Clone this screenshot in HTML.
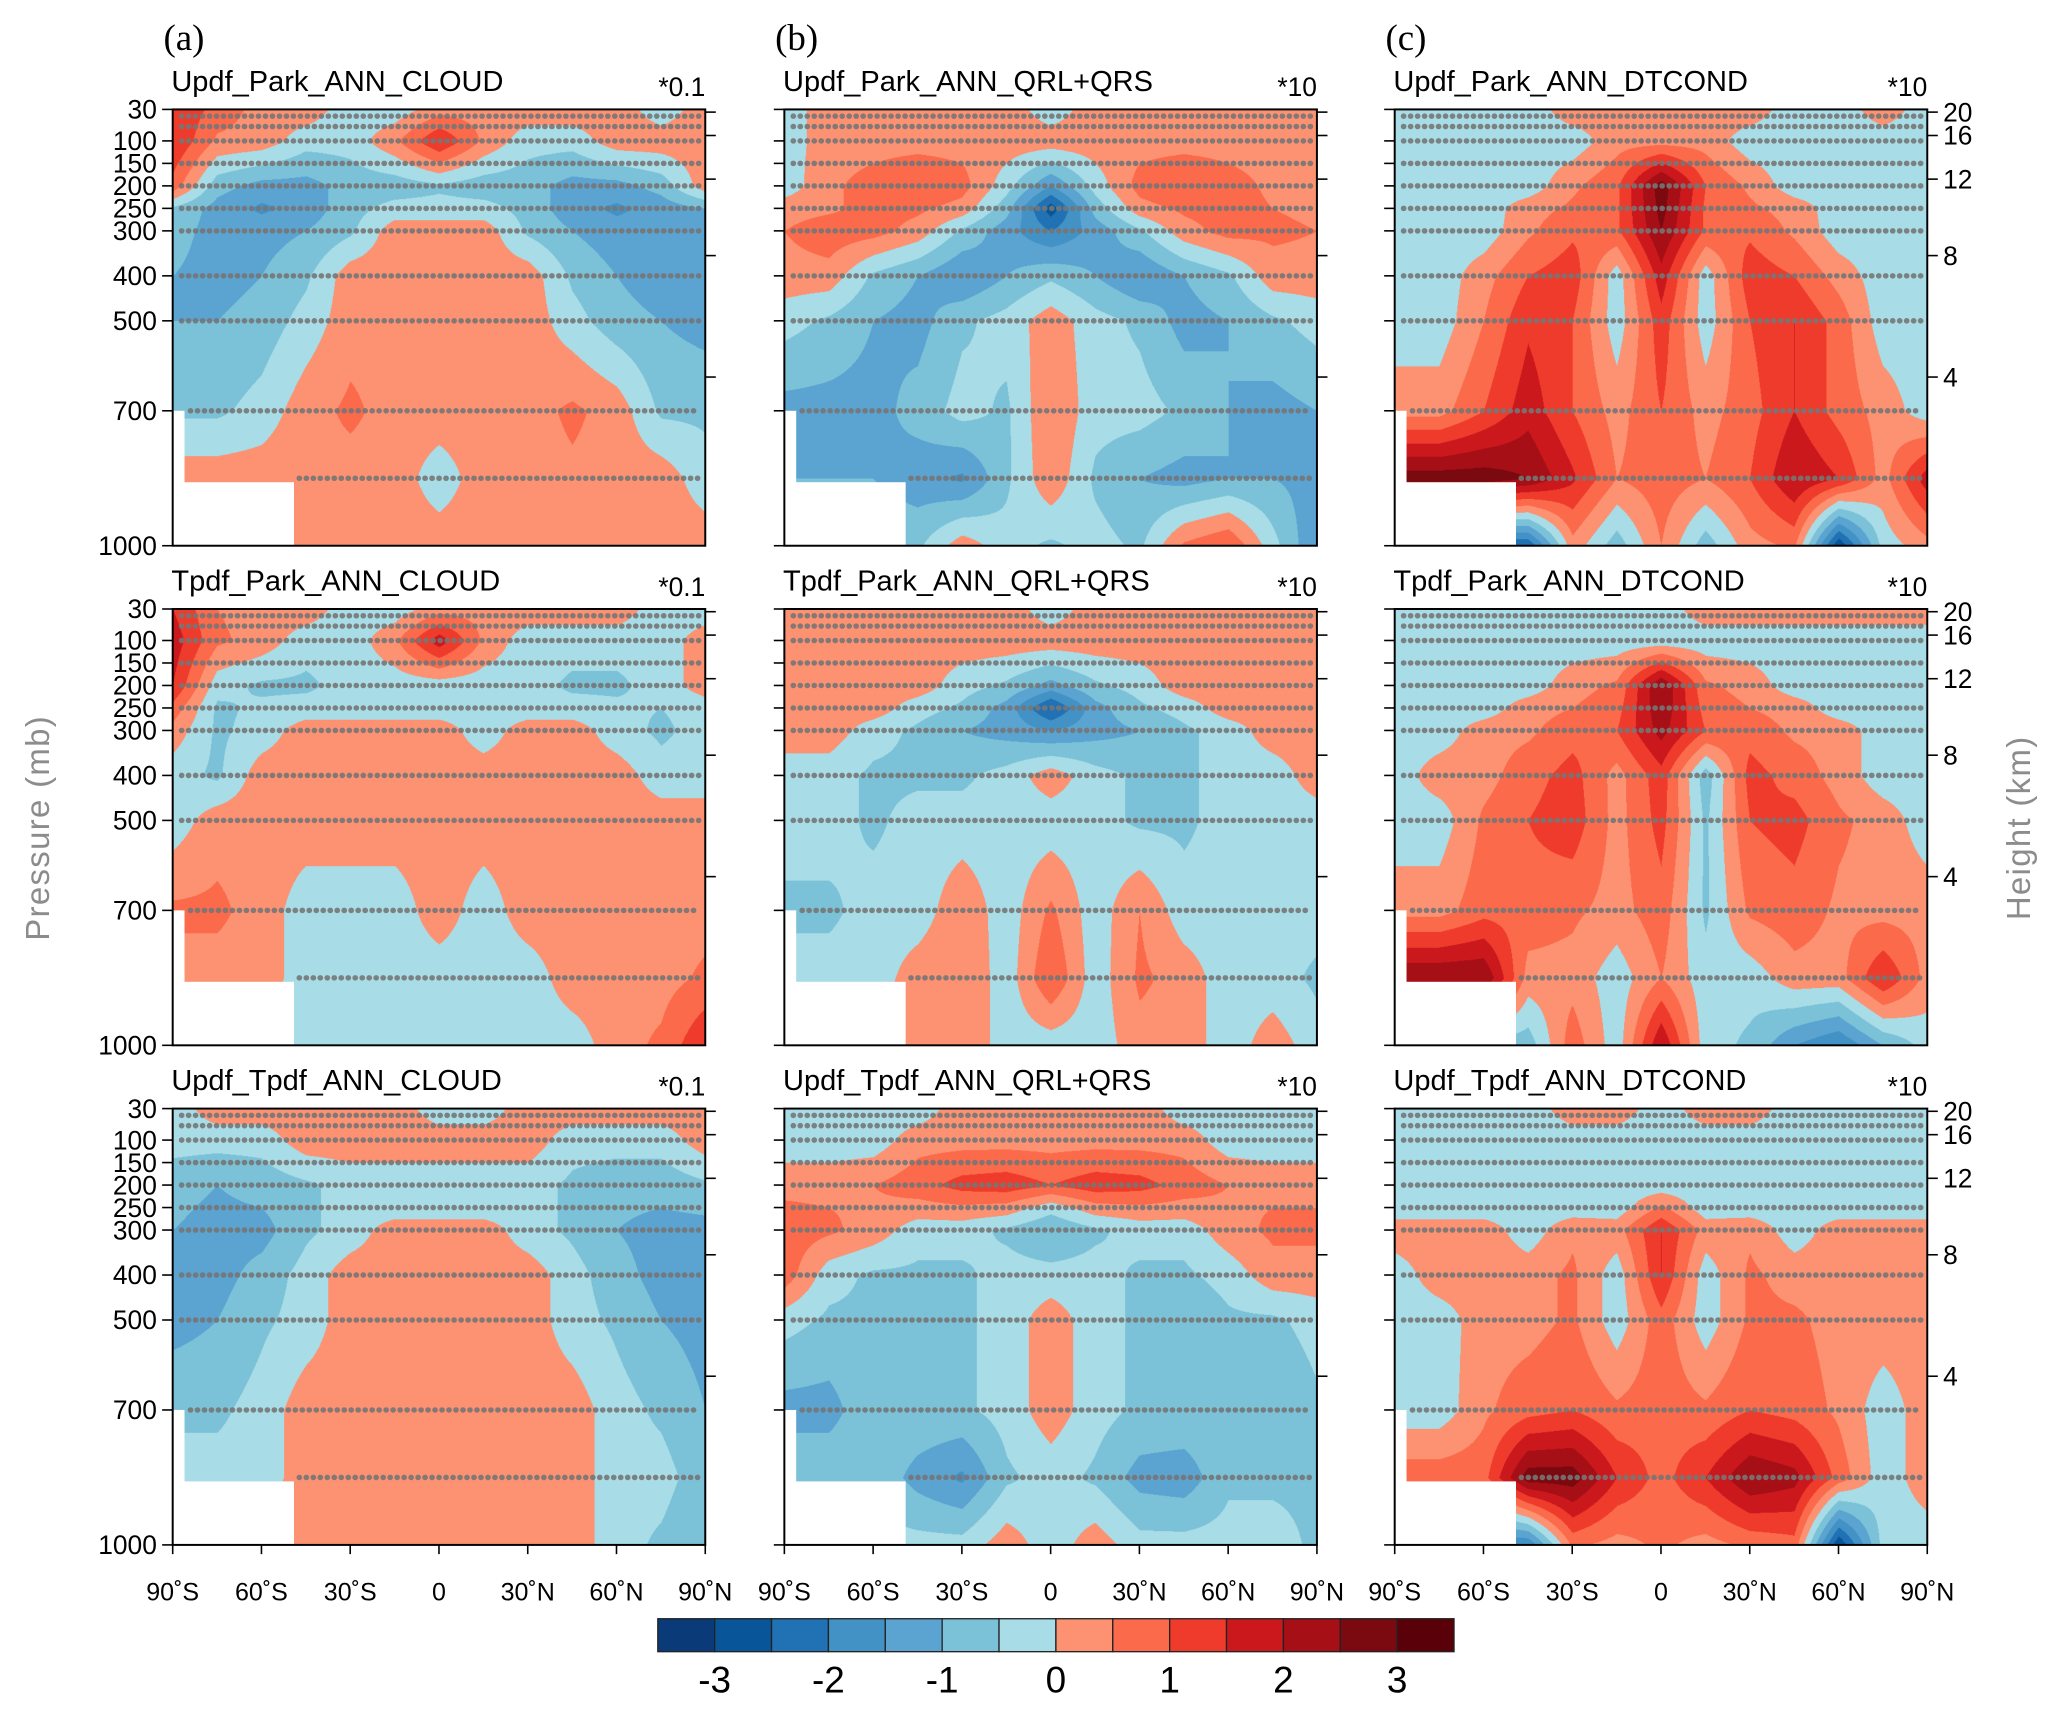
<!DOCTYPE html>
<html><head><meta charset="utf-8">
<style>
html,body{margin:0;padding:0;background:#fff;overflow:hidden;width:2067px;height:1711px}
#stage{position:absolute;left:0;top:0;width:1568px;height:1298px;transform:scale(1.31824,1.31818);transform-origin:0 0;font-family:"Liberation Sans",sans-serif}
canvas{position:absolute}
svg{position:absolute;left:0;top:0}
</style></head>
<body>
<div id="stage">
<svg id="ov" width="1568" height="1298"></svg>
</div>
<script>
const lats=[-90,-75,-60,-45,-30,-15,0,15,30,45,60,75,90];
const levels=[30,100,200,250,300,400,500,700,850,1000];
const N=NaN;
const colorLevels=[-3,-2.5,-2,-1.5,-1,-0.5,0,0.5,1,1.5,2,2.5,3];
const colorbarLabels=[-3,-2,-1,0,1,2,3];
const palette=["#0a3a78","#08559a","#2171b5","#4292c6","#5ba3d0","#7bc2d8","#a8dce6","#fc9272","#fb6a4a","#ef3b2c","#cb181d","#a50f15","#7a0a10","#5a0008"];
const titles=[["Updf_Park_ANN_CLOUD","*0.1"],["Updf_Park_ANN_QRL+QRS","*10"],["Updf_Park_ANN_DTCOND","*10"],
["Tpdf_Park_ANN_CLOUD","*0.1"],["Tpdf_Park_ANN_QRL+QRS","*10"],["Tpdf_Park_ANN_DTCOND","*10"],
["Updf_Tpdf_ANN_CLOUD","*0.1"],["Updf_Tpdf_ANN_QRL+QRS","*10"],["Updf_Tpdf_ANN_DTCOND","*10"]];
const pTicks=[30,100,150,200,250,300,400,500,700,1000];
const hTicks=[20,16,12,8,4];
const hTickP=[36,88,185,355,625];
const latTickLabels=["90˚S","60˚S","30˚S","0","30˚N","60˚N","90˚N"];
const latTicks=[-90,-60,-30,0,30,60,90];
const stippleLevels=[45,68,100,150,200,250,300,400,500,700,850];
const fA1=[
[1.5,0.8,0.3,0.3,-0.3,-0.3,0.3,0.3,0.3,0.3,0.3,-0.3,0.3],
[1.5,0.4,0.3,-0.3,-0.3,0.4,1.5,0.4,-0.3,-0.3,0.3,0.3,0.3],
[0.8,-0.8,-1.2,-1.2,-0.8,-0.8,-0.6,-0.8,-0.8,-1.2,-1.2,-0.8,0.3],
[-0.6,-1.2,-1.6,-1.3,-0.7,-0.3,-0.3,-0.3,-0.7,-1.3,-1.6,-1.3,-1.0],
[-0.8,-1.2,-1.2,-1.0,-0.6,0.3,0.3,0.3,-0.6,-1.0,-1.3,-1.3,-1.2],
[-1.0,-1.2,-1.0,-0.6,0.3,0.3,0.3,0.3,0.3,-0.6,-1.0,-1.3,-1.2],
[-1.0,-1.0,-0.8,-0.3,0.3,0.3,0.3,0.3,0.3,-0.3,-0.8,-1.0,-1.2],
[N,-0.6,-0.3,0.3,0.6,0.3,0.3,0.3,0.3,0.6,0.3,-0.6,-0.6],
[N,N,0.3,0.4,0.3,0.3,-0.3,0.3,0.3,0.4,0.3,0.3,-0.3],
[N,N,N,0.3,0.3,0.3,0.3,0.3,0.3,0.3,0.3,0.3,0.3]];
const fB1=[
[-0.3,0.3,0.3,0.3,0.3,0.3,-0.3,0.3,0.3,0.3,0.3,0.3,0.3],
[-0.3,0.3,0.3,0.3,0.3,0.3,0.3,0.3,0.3,0.3,0.3,0.3,0.3],
[-0.3,0.4,0.7,1.0,0.7,-0.3,-1.5,-0.3,0.7,1.0,0.7,0.4,0.3],
[0.3,0.4,0.7,0.6,0.3,-0.8,-2.8,-0.8,0.3,0.6,0.7,0.5,0.4],
[0.5,0.8,0.7,0.3,-0.6,-1.3,-2.0,-1.3,-0.6,0.3,0.7,0.6,0.5],
[0.3,0.3,-0.6,-1.0,-1.5,-1.0,-0.6,-1.0,-1.5,-1.0,-0.6,0.3,0.3],
[-0.3,-0.6,-1.0,-1.2,-0.6,-0.3,0.3,-0.3,-0.6,-1.2,-1.0,-0.6,-0.3],
[N,-1.2,-1.2,-0.8,-0.3,-0.6,0.5,-0.3,-0.3,-0.6,-1.0,-1.2,-1.0],
[N,N,-1.0,-1.3,-1.6,-0.6,0.4,-0.6,-1.0,-1.2,-1.0,-1.0,-1.2],
[N,N,N,-0.6,0.3,-0.3,-0.6,-0.3,-0.6,0.6,1.0,-0.3,-1.5]];
const fC1=[
[-0.3,-0.3,-0.3,-0.3,0.3,0.3,0.3,0.3,0.3,-0.3,-0.3,0.3,-0.3],
[-0.3,-0.3,-0.3,-0.3,-0.3,0.3,0.3,0.3,-0.3,-0.3,-0.3,-0.3,-0.3],
[-0.3,-0.3,-0.3,-0.3,0.4,0.9,2.8,1.0,0.4,-0.3,-0.3,-0.3,-0.3],
[-0.3,-0.3,-0.3,0.3,0.6,0.9,2.7,0.9,0.6,0.3,-0.3,-0.3,-0.3],
[-0.3,-0.3,-0.3,0.4,0.9,0.9,2.5,0.9,0.9,0.4,-0.3,-0.3,-0.3],
[-0.3,-0.3,0.3,1.0,1.3,-0.3,1.8,-0.3,1.3,1.0,0.3,-0.3,-0.3],
[-0.3,-0.3,0.5,1.4,1.0,-0.3,1.3,-0.3,1.0,1.5,0.8,-0.3,-0.3],
[N,0.3,1.0,1.8,1.0,0.3,1.0,0.3,0.8,1.5,0.8,0.3,-0.3],
[N,N,2.8,2.5,1.6,0.5,0.8,0.5,1.0,2.0,1.5,0.3,1.8],
[N,N,N,-2.5,0.3,-0.8,0.5,-0.8,0.3,0.6,-3,-0.3,0.3]];
const fA2=[
[1.5,0.5,0.3,0.3,-0.3,-0.3,0.3,0.3,0.3,0.3,0.3,-0.3,-0.3],
[1.8,0.6,0.3,-0.3,-0.3,0.4,1.8,0.4,-0.3,-0.3,-0.3,-0.3,0.3],
[1.5,-0.3,-0.6,-0.6,-0.3,-0.3,-0.3,-0.3,-0.3,-0.6,-0.6,-0.3,0.3],
[0.8,-0.6,-0.4,-0.3,-0.3,-0.3,-0.3,-0.3,-0.3,-0.3,-0.4,-0.5,-0.3],
[0.3,-0.6,-0.3,0.3,0.3,0.3,0.3,-0.3,0.3,0.3,-0.3,-0.6,-0.3],
[-0.3,-0.6,0.3,0.3,0.3,0.3,0.3,0.3,0.3,0.3,0.3,-0.3,-0.3],
[-0.3,0.3,0.3,0.3,0.3,0.3,0.3,0.3,0.3,0.3,0.3,0.3,0.3],
[N,0.6,0.3,-0.3,-0.3,-0.3,0.3,-0.3,0.3,0.3,0.3,0.3,0.3],
[N,N,0.3,-0.3,-0.3,-0.3,-0.3,-0.3,-0.3,0.3,0.3,0.3,0.6],
[N,N,N,-0.3,-0.3,-0.3,-0.3,-0.3,-0.3,-0.3,0.3,0.6,1.5]];
const fB2=[
[0.3,0.3,0.3,0.3,0.3,0.3,-0.3,0.3,0.3,0.3,0.3,0.3,0.3],
[0.3,0.3,0.3,0.3,0.3,0.3,0.3,0.3,0.3,0.3,0.3,0.3,0.3],
[0.3,0.3,0.3,0.3,-0.3,-0.6,-1.2,-0.6,-0.3,0.3,0.3,0.3,0.3],
[0.3,0.3,0.3,-0.3,-0.6,-1.2,-2.6,-1.2,-0.6,-0.3,0.3,0.3,0.3],
[0.3,0.3,-0.3,-0.6,-1.0,-1.2,-1.5,-1.2,-1.0,-0.6,-0.3,0.3,0.3],
[-0.3,-0.3,-0.6,-0.6,-0.6,-0.3,0.3,-0.3,-0.6,-0.6,-0.3,-0.3,0.3],
[-0.3,-0.3,-0.6,-0.3,-0.3,-0.3,-0.3,-0.3,-0.6,-0.6,-0.3,-0.3,-0.3],
[N,-0.6,-0.3,-0.3,0.4,-0.3,0.6,-0.3,0.5,-0.3,-0.3,-0.3,-0.3],
[N,N,-0.3,0.3,0.5,-0.3,1.0,-0.3,0.6,0.3,-0.3,-0.3,-0.6],
[N,N,N,0.3,0.5,-0.3,-0.3,-0.3,0.3,0.3,-0.3,0.3,-0.3]];
const fC2=[
[-0.3,-0.3,-0.3,-0.3,-0.3,-0.3,-0.3,0.3,0.3,0.3,0.3,0.3,0.3],
[-0.3,-0.3,-0.3,-0.3,-0.3,-0.3,-0.3,-0.3,-0.3,-0.3,-0.3,-0.3,-0.3],
[-0.3,-0.3,-0.3,-0.3,0.3,0.6,2.5,0.6,0.3,-0.3,-0.3,-0.3,-0.3],
[-0.3,-0.3,-0.3,0.3,0.5,0.8,2.4,0.8,0.5,0.3,-0.3,-0.3,-0.3],
[-0.3,-0.3,0.3,0.4,0.8,1.0,2.2,1.0,0.8,0.4,0.3,-0.3,-0.3],
[-0.3,0.3,0.3,0.8,1.2,0.3,1.3,-0.8,1.2,0.8,0.3,-0.3,-0.3],
[-0.3,-0.3,0.6,1.0,1.3,0.3,1.2,-0.6,1.0,1.2,0.6,0.3,-0.3],
[N,0.3,0.8,0.8,0.6,0.3,0.8,-0.6,0.6,0.8,0.4,0.3,0.3],
[N,N,2.5,0.3,0.3,-0.3,0.5,-0.3,-0.3,0.3,0.3,1.5,0.3],
[N,N,N,-0.8,0.8,-0.3,2.0,-0.3,-0.6,-1.5,-2.0,-1.0,-0.3]];
const fA3=[
[-0.3,0.3,0.3,0.3,0.3,0.3,-0.3,-0.3,0.3,0.3,0.3,0.3,0.3],
[-0.3,-0.3,-0.3,0.3,0.3,0.3,0.3,0.3,0.3,-0.3,-0.3,-0.3,0.3],
[-0.8,-1.0,-0.8,-0.6,-0.3,-0.3,-0.3,-0.3,-0.3,-0.6,-0.8,-0.8,-0.6],
[-0.9,-1.1,-1.0,-0.6,-0.3,-0.3,-0.3,-0.3,-0.3,-0.6,-0.9,-1.0,-0.9],
[-1.0,-1.2,-1.2,-0.6,-0.3,0.3,0.3,0.3,-0.3,-0.6,-1.0,-1.2,-1.2],
[-1.2,-1.2,-0.8,-0.3,0.3,0.3,0.3,0.3,0.3,-0.3,-0.8,-1.2,-1.3],
[-1.2,-1.0,-0.6,-0.3,0.3,0.3,0.3,0.3,0.3,-0.3,-0.6,-1.0,-1.2],
[N,-0.6,-0.3,0.3,0.3,0.3,0.3,0.3,0.3,0.3,-0.3,-0.6,-1.0],
[N,N,-0.3,0.3,0.5,0.3,0.3,0.3,0.3,0.3,-0.3,-0.3,-0.8],
[N,N,N,0.3,0.3,0.3,0.3,0.3,0.3,0.3,-0.3,-0.6,-1.0]];
const fB3=[
[-0.3,-0.3,-0.3,-0.3,0.3,0.3,0.3,0.3,0.3,-0.3,-0.3,-0.3,-0.3],
[-0.3,-0.3,-0.3,0.3,0.3,0.3,0.3,0.3,0.3,0.3,-0.3,-0.3,-0.3],
[0.3,0.3,0.5,0.8,1.2,1.3,1.0,1.3,1.2,0.8,0.5,0.3,0.3],
[0.6,0.5,0.4,0.3,0.4,0.3,-0.3,0.3,0.4,0.3,0.4,0.5,0.5],
[0.8,0.6,0.3,-0.3,-0.3,-0.6,-1.0,-0.6,-0.3,-0.3,0.3,0.6,0.6],
[0.8,-0.3,-0.6,-0.6,-0.6,-0.3,-0.3,-0.3,-0.6,-0.6,-0.3,0.3,0.3],
[-0.3,-0.6,-0.6,-1.0,-0.6,-0.3,0.3,-0.3,-0.6,-1.0,-0.6,-0.6,-0.3],
[N,-1.2,-0.6,-0.6,-0.6,-0.3,0.3,-0.3,-0.6,-0.6,-0.6,-1.0,-0.6],
[N,N,-0.6,-1.2,-1.6,-0.6,-0.3,-0.6,-1.2,-1.3,-0.6,-0.6,-0.6],
[N,N,N,-0.3,-0.3,0.3,-0.3,0.3,-0.3,-0.3,-0.3,-0.3,-0.6]];
const fC3=[
[-0.3,-0.3,-0.3,-0.3,0.3,0.3,-0.3,0.3,0.3,-0.3,-0.3,-0.3,-0.3],
[-0.3,-0.3,-0.3,-0.3,-0.3,-0.3,-0.3,-0.3,-0.3,-0.3,-0.3,-0.3,-0.3],
[-0.3,-0.3,-0.3,-0.3,-0.3,-0.3,-0.3,-0.3,-0.3,-0.3,-0.3,-0.3,-0.3],
[-0.3,-0.3,-0.3,-0.3,-0.3,-0.3,0.6,-0.3,-0.3,-0.3,-0.3,-0.3,-0.3],
[0.3,0.3,0.3,-0.3,0.4,0.3,1.5,0.3,0.4,-0.3,0.3,0.3,0.3],
[-0.3,0.3,0.3,0.3,0.6,-0.3,1.5,-0.3,0.6,0.3,0.3,0.3,0.3],
[-0.3,-0.3,0.3,0.3,0.6,-0.3,0.8,-0.3,0.6,0.6,0.3,0.3,0.3],
[N,-0.3,0.4,0.8,1.0,0.6,0.8,0.6,1.0,0.8,0.4,-0.3,0.3],
[N,N,0.8,2.8,2.8,1.5,0.8,1.5,2.5,2.2,0.8,-0.3,0.3],
[N,N,N,-2.0,0.6,0.3,0.6,0.3,0.6,0.8,-3.0,-0.3,-0.3]];
const fields=[fA1,fB1,fC1,fA2,fB2,fC2,fA3,fB3,fC3];

const colX=[131,595,1058], rowY=[83,462,841], PW=404, PH=331;
const NS="http://www.w3.org/2000/svg";
const ov=document.getElementById('ov');
const stage=document.getElementById('stage');
function mk(tag,attrs,parent){const e=document.createElementNS(NS,tag);for(const k in attrs)e.setAttribute(k,attrs[k]);(parent||ov).appendChild(e);return e;}
function xS(lat,c){return colX[c]+(lat+90)/180*PW;}
function yS(p,r){return rowY[r]+(p-30)/970*PH;}
function colorFor(v){let i=0;while(i<colorLevels.length&&v>=colorLevels[i])i++;return palette[i];}
function hex(c){return [parseInt(c.substr(1,2),16),parseInt(c.substr(3,2),16),parseInt(c.substr(5,2),16)];}
function fillNaN(f){return f.map(row=>{const first=row.find(v=>!isNaN(v));return row.map(v=>isNaN(v)?first:v);});}
function sample(f,lat,p){
  let i=Math.min(lats.length-2,Math.max(0,Math.floor((lat+90)/15)));
  let tx=(lat-lats[i])/15;
  let j=0;while(j<levels.length-2&&p>levels[j+1])j++;
  let ty=(p-levels[j])/(levels[j+1]-levels[j]);
  tx=Math.max(0,Math.min(1,tx));ty=Math.max(0,Math.min(1,ty));
  const a=f[j][i],b=f[j][i+1],c=f[j+1][i],d=f[j+1][i+1];
  return (a*(1-tx)+b*tx)*(1-ty)+(c*(1-tx)+d*tx)*ty;
}
fields.forEach((raw,k)=>{
  const r=Math.floor(k/3),c=k%3,f=fillNaN(raw);
  const cv=document.createElement('canvas');
  
  
  const S=2;cv.width=PW*S;cv.height=PH*S;
  cv.style.left=colX[c]+'px';cv.style.top=rowY[r]+'px';cv.style.width=PW+'px';cv.style.height=PH+'px';
  stage.insertBefore(cv,ov);
  const ctx=cv.getContext('2d'),img=ctx.createImageData(cv.width,cv.height);
  for(let y=0;y<cv.height;y++){const p=30+(y/S)/PH*970;
    for(let x=0;x<cv.width;x++){const lat=-90+(x/S)/PW*180;
      const rgb=hex(colorFor(sample(f,lat,p)));const o=(y*cv.width+x)*4;
      img.data[o]=rgb[0];img.data[o+1]=rgb[1];img.data[o+2]=rgb[2];img.data[o+3]=255;}}
  ctx.putImageData(img,0,0);
});
for(let k=0;k<9;k++){
  const r=Math.floor(k/3),c=k%3;
  const g=mk('g',{});
  
  
  const m1=mk('rect',{x:xS(-90,c),y:yS(700,r),width:xS(-86,c)-xS(-90,c),height:yS(1000,r)-yS(700,r),fill:'#fff'},g);
  
  
  const m2=mk('rect',{x:xS(-90,c),y:yS(850,r)+3,width:xS(-49,c)-xS(-90,c),height:yS(1000,r)-yS(850,r)-3,fill:'#fff'},g);
  
  
  stippleLevels.forEach(p=>{
    const x0=p>=700?xS(-84,c):xS(-87,c);const x1=xS(88,c);
    const sx=(p>=850)?xS(-49,c)+4:x0;
    const l=mk('line',{x1:sx,y1:yS(p,r),x2:x1,y2:yS(p,r),stroke:'#767676','stroke-width':4.2,'stroke-dasharray':'0.1 5.2','stroke-linecap':'round',opacity:0.9},g);
    
    
  });
  const fr=mk('rect',{x:colX[c],y:rowY[r],width:PW,height:PH,fill:'none',stroke:'#000','stroke-width':1.5},g);
  
  
  pTicks.forEach(p=>{mk('line',{x1:colX[c]-8,y1:yS(p,r),x2:colX[c],y2:yS(p,r),stroke:'#000','stroke-width':1.2},g);
    if(c===0){const t=mk('text',{x:colX[c]-12,y:yS(p,r)+7,'text-anchor':'end','font-size':20,fill:'#000'},g);t.textContent=p;
      
      }});
  hTickP.forEach((p,i)=>{mk('line',{x1:colX[c]+PW,y1:yS(p,r),x2:colX[c]+PW+8,y2:yS(p,r),stroke:'#000','stroke-width':1.2},g);
    if(c===2){const t=mk('text',{x:colX[c]+PW+12,y:yS(p,r)+7,'font-size':20,fill:'#000'},g);t.textContent=hTicks[i];
      
      }});
  const t=mk('text',{x:colX[c]-1,y:rowY[r]-14,'font-size':22,fill:'#000'},g);t.textContent=titles[k][0];
  
  
  const s=mk('text',{x:colX[c]+PW,y:rowY[r]-10,'font-size':20,'text-anchor':'end',fill:'#000'},g);s.textContent=titles[k][1];
  
  
  if(r===2){latTicks.forEach((lt,i)=>{mk('line',{x1:xS(lt,c),y1:rowY[r]+PH,x2:xS(lt,c),y2:rowY[r]+PH+7,stroke:'#000','stroke-width':1.2},g);
    const tl=mk('text',{x:xS(lt,c),y:rowY[r]+PH+42,'text-anchor':'middle','font-size':19,fill:'#000'},g);tl.textContent=latTickLabels[i];
    
    });}
}
['(a)','(b)','(c)'].forEach((s,i)=>{const t=mk('text',{x:colX[i]-7,y:38,'font-size':28,'font-family':'Liberation Serif, serif',fill:'#000'});t.textContent=s;
  
  });
const yl=mk('text',{x:37,y:628,'font-size':25,fill:'#8c8c8c','text-anchor':'middle','letter-spacing':1,transform:'rotate(-90 37 628)'});yl.textContent='Pressure (mb)';


const yr=mk('text',{x:1540,y:628,'font-size':25,fill:'#8c8c8c','text-anchor':'middle','letter-spacing':1,transform:'rotate(-90 1540 628)'});yr.textContent='Height (km)';


const cbX=499,cbY=1228,cbW=604,cbH=25,bw=cbW/palette.length;
palette.forEach((col,i)=>{const b=mk('rect',{x:cbX+i*bw,y:cbY,width:bw,height:cbH,fill:col,stroke:'#222','stroke-width':1});
  
  });
colorbarLabels.forEach(v=>{const i=colorLevels.indexOf(v);const t=mk('text',{x:cbX+(i+1)*bw,y:cbY+56,'text-anchor':'middle','font-size':28,fill:'#000'});t.textContent=v;
  
  });
</script>
</body></html>
